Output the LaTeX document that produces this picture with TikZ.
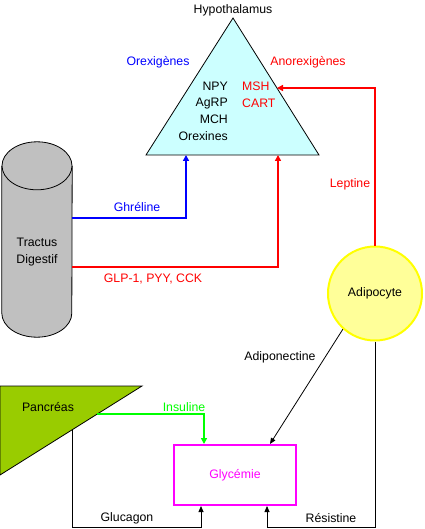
\documentclass[tikz,border=0pt]{standalone}
\usepackage{fontspec}
\setmainfont{Liberation Sans}
\usetikzlibrary{arrows.meta}
\definecolor{hypofill}{HTML}{CCFFFF}
\definecolor{cylgray}{HTML}{C0C0C0}
\definecolor{pancgreen}{HTML}{99CC00}
\definecolor{adipofill}{HTML}{FFFF99}
\definecolor{adipoline}{HTML}{FFFF00}
\definecolor{sigblue}{HTML}{0000FF}
\definecolor{sigred}{HTML}{FF0000}
\definecolor{insgreen}{HTML}{00FF00}
\definecolor{glycmag}{HTML}{FF00FF}

\begin{document}
\begin{tikzpicture}[x=1pt, y=-1pt,
    txt/.style={font=\fontsize{12.3}{16.6}\selectfont, inner sep=1pt},
    sig/.style={line width=2pt, -{Triangle[length=6pt,width=6pt]}},
    fine/.style={line width=0.8pt, -{Triangle[length=6pt,width=5pt]}},
  ]
  \useasboundingbox[fill=white] (0,0) rectangle (424,529);
  \coordinate (floor) at (0,527);

  % hypothalamus
  \draw[fill=hypofill, line width=0.8pt] (233,18) coordinate (apex)
    -- (319,155) coordinate (hbr) -- (146,155) coordinate (hbl) -- cycle;
  \coordinate (ghrin) at (186,155);
  \coordinate (glpin) at (278,155);
  \coordinate (lepin) at (277,88);
  \node[txt] (hypo) at (233,10) {Hypothalamus};
  \node[txt, text=sigblue] (orex) at (158,62) {Orexigènes};
  \node[txt, text=sigred] (anorex) at (308,62) {Anorexigènes};
  \node[txt, anchor=east, align=right] (orexlist) at (229,111) {NPY\\AgRP\\MCH\\Orexines};
  \node[txt, anchor=west, align=left, text=sigred] (anorexlist) at (241,94.5) {MSH\\CART};

  % tractus digestif
  \node[minimum width=70pt, minimum height=147pt, inner sep=0pt] (cyl) at (37,239.5) {};
  \draw[fill=cylgray, line width=0.8pt] (cyl.north west) -- (cyl.south west)
    arc[start angle=180, end angle=360, x radius=35pt, y radius=24pt] -- (cyl.north east);
  \draw[fill=cylgray, line width=0.8pt] (cyl.north) ellipse[x radius=35pt, y radius=24pt];
  \node[txt, align=center] (tractus) at (37,252) {Tractus\\Digestif};

  % adipocyte
  \node[txt, circle, minimum size=94pt, fill=adipofill, draw=adipoline, line width=2pt]
    (adipo) at (375,293.5) {Adipocyte};

  % pancreas
  \draw[fill=pancgreen, line width=0.8pt] (0,386) coordinate (pnw)
    -- (142,386) coordinate (pne) -- (0,475) coordinate (psw) -- cycle;
  \coordinate (insout) at (97,414.2);
  \coordinate (glucout) at (72,429.9);
  \node[txt] (panc) at (48,407) {Pancréas};

  % glycemie
  \node[txt, draw=glycmag, line width=2pt, minimum width=122pt, minimum height=60pt,
    text=glycmag] (glyc) at (235,475) {Glycémie};

  \draw[sig, sigblue] ([yshift=21.5pt]cyl.east) -| (ghrin);
  \draw[sig, sigred] ([yshift=-27.5pt]cyl.east) -| (glpin);
  \draw[sig, sigred] (adipo.north) |- (lepin);
  \draw[fine] (adipo.228) -- ([xshift=35pt]glyc.north);
  \draw[sig, insgreen] (insout) -| ([xshift=-31pt]glyc.north);
  \draw[fine] (glucout) -- (glucout |- floor) -| ([xshift=-34pt]glyc.south);
  \draw[fine] (adipo.south) -- (adipo.south |- floor) -| ([xshift=32pt]glyc.south);

  \node[txt, text=sigblue] (ghr) at (137,207) {Ghréline};
  \node[txt, text=sigred] (glp) at (153,279) {GLP-1, PYY, CCK};
  \node[txt, text=sigred] (lep) at (350,184) {Leptine};
  \node[txt] (adiponect) at (280,357) {Adiponectine};
  \node[txt, text=insgreen] (ins) at (184,407) {Insuline};
  \node[txt] (gluc) at (127,518) {Glucagon};
  \node[txt] (resist) at (331,518) {Résistine};
\end{tikzpicture}
\end{document}
